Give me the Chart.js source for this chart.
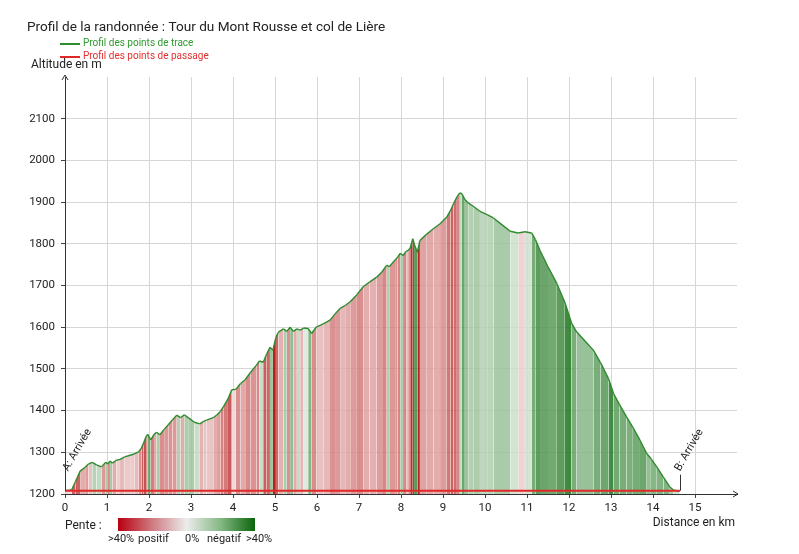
<!DOCTYPE html>
<html>
<head>
<meta charset="utf-8">
<script src="https://cdn.jsdelivr.net/npm/chart.js@4.4.1/dist/chart.umd.min.js"></script>
<style>
html,body{margin:0;padding:0;background:#fff;}
canvas{display:block;}
</style>
</head>
<body>
<canvas id="c" width="799" height="554"></canvas>
<script>
// ---- data ----
const chartTitle = 'Profil de la randonnée : Tour du Mont Rousse et col de Lière';
const seriesNames = ['Profil des points de trace', 'Profil des points de passage'];
const distances = [0,0.16,0.25,0.36,0.48,0.56,0.65,0.75,0.87,0.97,1.02,1.07,1.13,1.22,1.31,1.42,1.55,1.65,1.75,1.82,1.87,1.93,1.97,2.04,2.12,2.18,2.26,2.36,2.46,2.56,2.66,2.75,2.84,2.95,3.08,3.21,3.30,3.37,3.53,3.62,3.70,3.77,3.88,3.97,4.07,4.18,4.29,4.42,4.56,4.63,4.72,4.80,4.88,4.95,5.02,5.08,5.20,5.28,5.36,5.44,5.52,5.60,5.68,5.79,5.87,5.99,6.15,6.31,6.43,6.55,6.67,6.79,6.95,7.10,7.25,7.42,7.55,7.66,7.72,7.86,7.92,7.98,8.05,8.12,8.17,8.22,8.28,8.33,8.39,8.45,8.60,8.77,8.93,9.09,9.18,9.25,9.33,9.40,9.45,9.52,9.60,9.72,9.88,10.05,10.20,10.40,10.60,10.79,10.95,11.11,11.20,11.31,11.50,11.71,11.90,12.06,12.18,12.38,12.58,12.75,12.94,13.06,13.20,13.37,13.52,13.69,13.85,13.95,14.09,14.25,14.40,14.48,14.63];
const altitudes = [1208,1210,1230,1255,1264,1272,1276,1270,1265,1276,1272,1279,1274,1281,1283,1289,1293,1296,1301,1310,1322,1338,1343,1330,1343,1348,1342,1355,1366,1378,1389,1383,1390,1382,1372,1368,1374,1377,1383,1390,1398,1409,1428,1450,1451,1465,1474,1492,1509,1519,1516,1535,1552,1545,1575,1588,1596,1590,1600,1590,1596,1593,1598,1597,1585,1601,1608,1617,1632,1645,1652,1661,1678,1697,1708,1720,1733,1749,1745,1761,1768,1777,1772,1782,1784,1790,1812,1795,1780,1808,1822,1836,1848,1864,1880,1896,1912,1922,1920,1906,1898,1890,1878,1870,1862,1846,1830,1826,1829,1826,1810,1784,1745,1705,1660,1610,1589,1567,1545,1515,1477,1441,1415,1385,1360,1329,1297,1285,1265,1240,1217,1210,1206];
const waypointNames = ['A: Arrivée', 'B: Arrivée'];
const waypointDist = [0, 14.64];
const waypointAlt = [1208, 1208];
const xTicks = [0,1,2,3,4,5,6,7,8,9,10,11,12,13,14,15];
const yTicks = [1200,1300,1400,1500,1600,1700,1800,1900,2000,2100];
const slopeLabels = ['>40%', 'positif', '0%', 'négatif', '>40%'];

// ---- styles ----
const FONT = 'Roboto, "Noto Sans", sans-serif';
function mix(a, b, t) { return a.map((v, i) => Math.round(v + (b[i] - v) * t)); }
function slopeColor(p0, p1) {
  const dx = (p1.x - p0.x) * 1000;
  const s = dx > 0 ? (p1.y - p0.y) / dx : 0;
  const t = Math.pow(Math.min(Math.abs(s) / 0.4, 1), 0.7);
  const c = s >= 0 ? mix([244, 234, 234], [176, 0, 0], t) : mix([234, 242, 234], [0, 100, 0], t);
  return 'rgba(' + c.join(',') + ',0.88)';
}

const trace = distances.map((d, i) => ({ x: d, y: altitudes[i] }));
const passage = waypointDist.map((d, i) => ({ x: d, y: waypointAlt[i] }));

const decor = {
  id: 'decor',
  afterDraw(chart) {
    const ctx = chart.ctx;
    const xs = chart.scales.x, ys = chart.scales.y;
    const ca = chart.chartArea;
    ctx.save();
    ctx.fillStyle = '#222';
    ctx.textBaseline = 'middle';
    ctx.textAlign = 'left';
    ctx.font = '13.6px ' + FONT;
    ctx.fillText(chartTitle, 27, 28);

    // legend
    const legCols = ['#2e9a2e', '#e03030'];
    const legLine = ['#2e8b2e', '#e02828'];
    const legY = [44, 57];
    ctx.font = '10px ' + FONT;
    for (let i = 0; i < 2; i++) {
      ctx.strokeStyle = legLine[i];
      ctx.lineWidth = 2;
      ctx.beginPath(); ctx.moveTo(60, legY[i]); ctx.lineTo(80, legY[i]); ctx.stroke();
      ctx.fillStyle = legCols[i];
      ctx.fillText(seriesNames[i], 83, legY[i] - 1);
    }

    ctx.fillStyle = '#222';
    ctx.font = '12px ' + FONT;
    ctx.fillText('Altitude en m', 31, 65);
    ctx.textAlign = 'right';
    ctx.fillText('Distance en km', 735, 523);

    // axis arrows
    ctx.strokeStyle = '#333';
    ctx.lineWidth = 1;
    ctx.beginPath();
    ctx.moveTo(ca.left - 3, ca.top + 3); ctx.lineTo(ca.left, ca.top - 2); ctx.lineTo(ca.left + 3, ca.top + 3);
    ctx.moveTo(ca.right - 4, ca.bottom - 3); ctx.lineTo(ca.right + 1, ca.bottom); ctx.lineTo(ca.right - 4, ca.bottom + 3);
    ctx.stroke();

    // slope legend
    ctx.textAlign = 'left';
    ctx.fillText('Pente :', 65, 526);
    const g = ctx.createLinearGradient(118, 0, 255, 0);
    g.addColorStop(0, '#b80010');
    g.addColorStop(0.25, '#cf7a80');
    g.addColorStop(0.5, '#ececec');
    g.addColorStop(0.75, '#84b884');
    g.addColorStop(1, '#0a640a');
    ctx.fillStyle = g;
    ctx.fillRect(118, 518, 137, 13);
    ctx.fillStyle = '#222';
    ctx.font = '11px ' + FONT;
    const lx = [108, 138, 185, 207, 246];
    slopeLabels.forEach((t, i) => ctx.fillText(t, lx[i], 539));

    // waypoint labels
    ctx.font = '11px ' + FONT;
    waypointNames.forEach((name, i) => {
      const px = xs.getPixelForValue(waypointDist[i]);
      const py = ys.getPixelForValue(waypointAlt[i]);
      ctx.strokeStyle = '#333';
      ctx.lineWidth = 1;
      ctx.beginPath(); ctx.moveTo(Math.round(px) + 0.5, py); ctx.lineTo(Math.round(px) + 0.5, py - 16); ctx.stroke();
      ctx.save();
      ctx.translate(px + (i === 0 ? 3 : 0), py - 19);
      ctx.rotate(-Math.PI / 3);
      ctx.fillStyle = '#222';
      ctx.textBaseline = 'alphabetic';
      ctx.fillText(name, 0, 0);
      ctx.restore();
    });
    ctx.restore();
  }
};

new Chart(document.getElementById('c'), {
  type: 'line',
  data: {
    datasets: [
      {
        label: seriesNames[1],
        data: passage,
        borderColor: '#e02828',
        borderWidth: 2,
        pointRadius: 0,
        fill: false,
        order: 0
      },
      {
        label: seriesNames[0],
        data: trace,
        borderColor: '#2e8b2e',
        borderWidth: 1.4,
        pointRadius: 0,
        tension: 0,
        fill: 'start',
        backgroundColor: '#eee',
        segment: {
          backgroundColor: c => slopeColor(c.p0.parsed, c.p1.parsed)
        },
        order: 1
      }
    ]
  },
  options: {
    responsive: false,
    animation: false,
    layout: { padding: { left: 10, top: 77, right: 62, bottom: 20 } },
    plugins: { legend: { display: false }, tooltip: { enabled: false }, title: { display: false } },
    scales: {
      x: {
        type: 'linear', min: 0, max: 16,
        afterBuildTicks: s => { s.ticks = xTicks.map(v => ({ value: v })); },
        afterFit: s => { s.height = 40; },
        grid: { color: '#d6d6d6', lineWidth: 1, drawTicks: true, tickLength: 4, tickColor: '#444' },
        border: { display: true, color: '#333', width: 1 },
        ticks: { color: '#222', font: { family: FONT, size: 11.5 }, padding: 3, maxRotation: 0, autoSkip: false, callback: v => String(v) }
      },
      y: {
        type: 'linear', min: 1200, max: 2200,
        afterBuildTicks: s => { s.ticks = yTicks.map(v => ({ value: v })); },
        afterFit: s => { s.width = 55; },
        grid: { color: '#d6d6d6', lineWidth: 1, drawTicks: true, tickLength: 4, tickColor: '#444' },
        border: { display: true, color: '#333', width: 1 },
        ticks: { color: '#222', font: { family: FONT, size: 11.5 }, padding: 6, autoSkip: false, callback: v => String(v) }
      }
    }
  },
  plugins: [decor]
});
</script>
</body>
</html>
